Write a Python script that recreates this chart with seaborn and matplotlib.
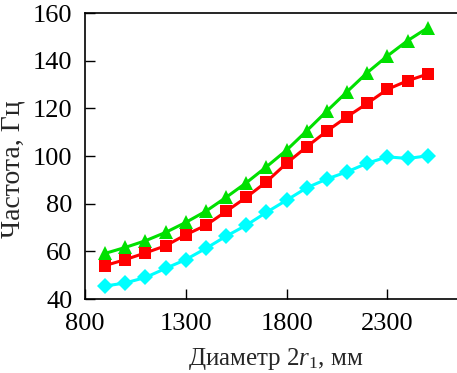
import numpy as np
import pandas as pd
import matplotlib
matplotlib.use("Agg")
import matplotlib.pyplot as plt
import seaborn as sns

# data
diameter = [900, 1000, 1100, 1200, 1300, 1400, 1500, 1600, 1700,
            1800, 1900, 2000, 2100, 2200, 2300, 2400, 2500]
green = [59.2, 61.7, 64.5, 68.0, 72.2, 76.9, 82.7, 88.8, 95.5,
         102.5, 110.6, 118.9, 127.0, 135.0, 142.0, 148.4, 153.8]
red = [54.1, 56.6, 59.4, 62.4, 67.0, 71.0, 76.8, 82.7, 89.2,
       97.0, 103.9, 110.5, 116.5, 122.1, 128.0, 131.6, 134.4]
cyan = [45.5, 46.8, 49.1, 52.9, 56.6, 61.3, 66.4, 71.0, 76.4,
        81.5, 86.7, 90.4, 93.4, 97.0, 99.7, 99.0, 100.1]

sns.set_style("ticks")
plt.rcParams['font.family'] = ['Liberation Serif', 'DejaVu Serif']
plt.rcParams['mathtext.fontset'] = 'custom'
plt.rcParams['mathtext.rm'] = 'Liberation Serif'
plt.rcParams['mathtext.it'] = 'Liberation Serif:italic'

df = pd.DataFrame({'d': diameter, 'g': green, 'r': red, 'c': cyan})

fig = plt.figure(figsize=(4.57, 3.73), dpi=100)
ax = fig.add_axes([0.186, 0.198, 0.816, 0.767])

sns.lineplot(data=df, x='d', y='g', ax=ax, color='#00e000', marker='^',
             markersize=10, markeredgewidth=0, linewidth=2.2)
sns.lineplot(data=df, x='d', y='r', ax=ax, color='#ff0000', marker='s',
             markersize=8, markeredgewidth=0, linewidth=2.2)
sns.lineplot(data=df, x='d', y='c', ax=ax, color='#00ffff', marker='D',
             markersize=8, markeredgewidth=0, linewidth=2.2)

ax.set_xlim(800, 2650)
ax.set_ylim(40, 160)
ax.set_xticks([800, 1300, 1800, 2300])
ax.set_yticks([40, 60, 80, 100, 120, 140, 160])
ax.tick_params(direction='in', length=7, width=1, labelsize=19, colors='black')
ax.tick_params(axis='x', pad=10)
ax.tick_params(axis='y', pad=9)
ax.spines['right'].set_visible(False)
for s in ['left', 'bottom', 'top']:
    ax.spines[s].set_linewidth(1.2)
    ax.spines[s].set_color('black')

ax.set_xlabel(r'Диаметр 2$\mathit{r}_1$, мм', fontsize=18)
ax.set_ylabel('Частота, Гц', fontsize=20)
ax.xaxis.set_label_coords(0.51, -0.165)
ax.yaxis.set_label_coords(-0.16, 0.456)

fig.savefig('out.png', dpi=100)
